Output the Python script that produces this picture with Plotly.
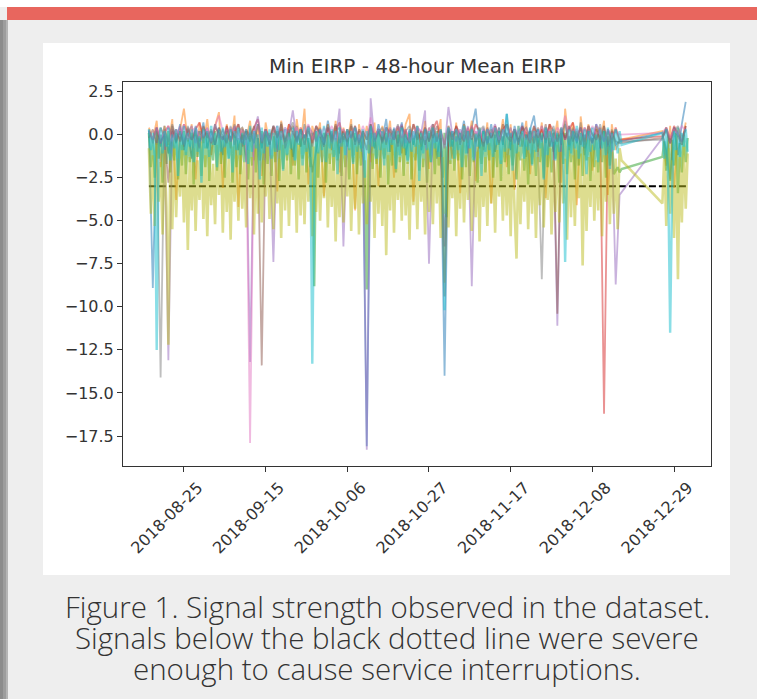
import pandas as pd
import plotly.graph_objects as go

# ---------------- time index ----------------
days_main = pd.date_range("2018-08-16", "2018-12-15", freq="D")          # 122 points
days_end = pd.date_range("2018-12-26", "2019-01-01", freq="D")           # 7 points
dates_daily = list(days_main) + list(days_end)
half_main = pd.date_range("2018-08-16 00:00", "2018-12-15 12:00", freq="12h")  # 244
half_end = pd.date_range("2018-12-26 00:00", "2019-01-01 12:00", freq="12h")   # 14
dates_half = list(half_main) + list(half_end)

# ---------------- series values (Min EIRP - 48h mean EIRP) ----------------
blue = [0.3, -8.9, 0.4, -0.7, 0.5, -1.1, 0.2, -0.5, 0.6, -0.9,
        0.3, -1.4, 0.5, -0.4, 0.7, -0.8, 0.2, -0.6, 0.4, -1.2,
        0.5, -0.3, 0.6, -0.9, 0.3, -1.6, 0.4, -0.5, 0.6, -0.8,
        0.2, -0.6, 0.5, -1.0, 0.7, -0.4, 0.3, -1.3, 0.5, -0.7,
        0.6, -0.5, -2.2, -0.9, 0.4, -0.6, 0.8, -0.3, 0.5, -1.1,
        0.3, -0.7, 0.6, -0.4, 0.2, -1.5, -18.1, 0.3, -0.8, 0.6,
        -0.3, 0.9, -1.0, 0.4, -0.5, 0.7, -1.2, 0.2, -0.6, 0.5,
        -0.9, 0.3, -0.4, 0.6, -1.4, 0.2, -14.0, 0.4, -0.7, 0.5,
        -0.3, 0.8, -1.1, 0.4, 1.5, -0.8, 0.3, -0.5, 0.6, -1.0,
        0.4, -0.6, 1.2, -0.9, 0.5, -0.4, 0.7, -1.3, 0.3, 1.1,
        -0.7, 0.5, -0.5, 0.6, -1.0, 0.2, -0.6, 0.8, -0.9, 0.4,
        -0.5, 0.7, -1.2, 0.3, -0.4, 0.6, -0.8, 0.5, -1.1, 0.3,
        -0.6, -0.4,
        0.1, -0.9, -2.6, 0.4, -1.2, 0.6, 1.9]

orange = [0.4, -0.3, 0.8, -1.9, 0.5, -0.6, 0.9, -3.8, 0.3, 1.5,
          -0.4, 0.6, -2.6, 0.7, -0.5, 0.9, -1.2, 0.5, 1.3, -3.1,
          0.6, -0.8, 1.1, -4.2, 0.4, -0.3, 0.8, -1.5, 0.5, -2.4,
          0.7, -0.6, 0.4, -3.3, 0.8, -0.5, 0.6, -1.8, 0.9, -0.7,
          1.5, -2.9, 0.5, -0.4, 0.7, -3.6, 0.6, -0.9, 0.8, -2.2,
          0.4, -0.5, 0.9, -4.4, 0.6, -0.8, 0.5, -1.6, 0.7, -3.0,
          0.5, -0.6, 0.8, -2.5, 0.4, -1.1, 0.6, 1.2, -3.9, 0.5,
          -0.7, 0.8, -2.0, 0.6, -0.4, 0.9, -8.6, 0.5, -1.4, 0.7,
          -3.4, 0.6, -0.5, 0.8, -2.7, 0.4, -0.9, 0.7, -4.0, 0.5,
          -0.6, 0.9, -1.9, 0.6, -3.2, 0.5, -0.7, 0.8, -2.3, 0.4,
          -1.0, 0.7, -3.7, 0.6, -0.5, 0.8, -2.8, 1.5, -0.6, 0.7,
          -4.1, 1.05, -0.8, 0.6, -2.1, 0.5, -0.4, 0.8, -3.5, 0.6,
          -0.9, -0.3,
          0.2, -1.8, 0.5, -3.1, 0.4, -0.6, 0.7]

green = [0.1, -1.9, -0.2, -2.5, 0.2, -1.4, 0.0, -2.8, -0.1, -1.7,
         0.2, -2.2, -0.3, -1.5, 0.1, -2.6, -0.1, -1.8, 0.2, -2.3,
         -0.2, -1.6, 0.1, -2.9, 0.0, -1.3, 0.2, -2.4, -0.1, -1.9,
         0.1, -2.7, -0.2, -1.5, 0.2, -2.1, 0.0, -1.7, -0.1, -2.5,
         0.2, -1.4, -0.1, -2.8, 0.1, -1.9, -0.2, -2.3, 0.0, -1.6,
         0.2, -2.6, -0.1, -1.8, 0.1, -2.2, -0.2, -1.5, 0.2, -2.9,
         0.0, -1.7, 0.1, -2.4, -0.1, -1.6, 0.2, -2.7, 0.0, -2.0,
         -0.2, -1.5, 0.1, -2.3, 0.2, -1.8, -0.1, -2.6, 0.1, -1.4,
         0.0, -2.2, -0.2, -1.9, 0.1, -8.8, 0.2, -2.5, -0.1, -1.6,
         0.1, -2.8, 0.0, -1.7, 0.2, -2.1, -0.2, -1.5, 0.1, -2.4,
         -0.1, -1.9, 0.2, -2.6, 0.0, -1.6, 0.1, -2.3, -0.2, -1.8,
         0.2, -2.7, -9.0, -1.5, 0.1, -2.0, -0.1, -1.7, 0.2, -2.5,
         0.0, -1.4, 0.1, -2.9, -0.2, -1.8, 0.2, -2.2, 0.0, -1.6,
         -0.1, -2.4, 0.2, -1.7, 0.1, -2.6, -0.2, -1.5, 0.0, -2.1,
         0.2, -1.9, -0.1, -2.8, 0.1, -1.6, 0.0, -2.3, 0.2, -1.8,
         -0.2, -2.5, 0.1, -4.8, 0.0, -1.7, 0.2, -2.1, -0.1, -1.5,
         0.1, -2.6, 0.0, -1.9, 0.2, -2.4, -0.2, -1.6, 0.1, -2.8,
         0.0, -1.7, 0.2, -2.2, -0.1, -1.5, 0.1, -2.5, 0.0, -1.9,
         0.2, -2.7, -0.1, -1.6, 0.1, -2.3, 0.0, -1.8, 0.2, -2.6,
         -0.2, -1.5, 0.1, -2.1, 0.0, -2.9, 0.2, -1.7, -0.1, -2.4,
         0.1, -1.6, 0.0, -2.5, 0.2, -1.9, -0.2, -2.2, 0.1, -1.4,
         0.0, -2.8, 0.2, -1.7, 0.1, -2.3, -0.1, -1.6, 0.2, -2.6,
         -0.1, -1.8, 0.1, -2.4, 0.0, -1.5, 0.2, -2.7, -0.2, -1.9,
         0.1, -2.2, 0.0, -1.6, 0.2, -2.5, -0.1, -1.8, 0.1, -2.3,
         -2.1, -1.9, -2.2, -2.0,
         -1.3, -0.4, -2.1, 0.0, -2.7, -0.3, -1.8, 0.1, -3.4, -0.5,
         -2.2, 0.0, -1.6, -0.2]

red = [0.2, -0.3, 0.4, -0.5, 0.1, 0.5, -0.2, 0.3, -0.4, 0.6,
       0.0, -0.3, 0.3, 0.7, -0.2, 0.2, -0.5, 0.4, 0.1, -0.3,
       0.5, -0.4, 0.2, 0.6, -0.3, 0.3, -0.1, 0.4, 0.9, -0.5,
       0.3, -0.2, 0.5, -0.1, 0.3, -0.4, 0.6, 0.1, -0.3, 0.4,
       -0.2, 0.3, -0.5, 0.5, 0.1, -0.3, 0.4, -0.4, 0.2, 0.7,
       -0.3, 0.3, -0.2, 0.5, -0.5, 0.2, -0.3, 0.6, -0.1, 0.3,
       -0.4, 0.4, 0.1, -0.3, 0.5, -0.2, 0.3, -0.5, 0.6, 0.1,
       -0.3, 0.4, -0.4, 0.3, 0.8, -0.2, -6.5, 0.3, -0.3, 0.5,
       0.0, -0.4, 0.4, -0.3, 0.6, 0.2, -0.5, 0.3, -0.2, 0.5,
       -0.3, 0.3, 0.6, -0.2, 0.3, -0.4, 0.4, 0.1, -0.5, 0.5,
       -0.2, 0.3, -0.3, 0.6, 0.2, -0.4, 0.4, -0.3, 0.3, 0.7,
       -0.2, 0.4, -0.4, 0.5, 0.0, -0.3, 0.4, -16.2, 0.3, -0.3,
       0.4, -0.3,
       -0.1, 0.4, -0.3, 0.5, 0.1, -0.4, 0.5]

purple = [0.2, -0.3, 0.4, -0.5, 0.1, -13.1, 0.3, -0.2, 0.5, -0.4,
          0.1, 0.5, -0.5, 0.2, -0.1, 0.4, -0.4, 0.6, 0.0, -0.3,
          0.3, -0.4, 0.5, 0.0, -0.5, 0.2, -13.2, 0.1, 1.05, -0.4,
          0.3, -0.2, -7.4, 0.3, -0.3, 0.4, 0.1, 1.4, -0.4, 0.3,
          -0.2, 0.5, 0.1, -0.4, 0.3, -0.5, 0.4, 0.0, -0.3, 1.5,
          -6.5, 0.2, -0.2, 0.4, -0.4, 0.1, -18.3, 2.1, -0.4, 0.3,
          0.1, -0.4, 0.4, -0.3, 0.2, 0.6, -0.5, 0.3, -0.2, 0.4,
          0.1, 1.4, -7.5, 0.3, -0.4, 0.2, -0.8, 1.6, 0.0, -0.4,
          0.3, -0.3, 0.5, -8.8, 0.2, -0.2, 0.4, -0.5, 0.1, 0.6,
          -0.4, 0.3, -0.1, 0.4, -0.5, 0.2, 0.5, -0.3, 0.3, -0.2,
          0.3, -0.4, 0.4, 0.1, -0.5, -11.1, 0.3, -0.3, 0.5, 0.0,
          -0.4, 0.4, -0.2, 0.3, -0.5, 0.6, 0.1, -0.4, 0.3, -0.3,
          -8.7, -3.5,
          -0.2, 0.3, -0.5, 0.4, 0.0, -0.4, 0.4]

brown = [-0.2, 0.3, -0.6, 0.4, -0.1, -2.8, 0.5, -0.4, 0.2, -0.7,
         0.4, -0.3, 0.1, -0.8, 0.5, -0.2, 0.3, -0.6, 0.4, -0.1,
         -0.5, 0.3, -0.2, 0.6, -0.7, 0.2, -0.4, 0.5, -0.3, -13.4,
         0.3, -0.5, 0.4, -0.2, 0.6, -0.8, 0.1, 0.5, -0.4, 0.3,
         -0.6, 0.2, -0.3, 0.5, -0.1, -0.7, 0.4, -0.2, 0.6, -0.5,
         0.2, -0.4, 0.5, -0.6, 0.3, -0.1, -0.9, 0.6, -0.3, 0.2,
         -0.5, 0.4, -0.2, 0.3, -0.7, 0.5, -0.1, -0.4, 0.6, -0.3,
         0.2, -0.6, 0.4, -0.2, 0.5, -0.5, -9.4, 0.3, -0.1, 0.4,
         -0.6, 0.2, -0.3, 0.5, -0.4, 0.1, -0.7, 0.4, -0.2, 0.3,
         -0.5, 0.6, -0.1, -0.4, 0.3, -0.6, 0.5, -0.2, 0.2, -0.5,
         0.4, -0.3, 0.6, -0.7, 0.1, -10.4, 0.3, -0.2, 0.5, -0.4,
         0.2, -0.6, 0.4, -0.1, -0.5, 0.3, -0.3, 0.5, -0.6, 0.2,
         -0.4, -0.5,
         -0.2, 0.3, -0.5, 0.4, -0.1, -0.6, 0.5]

pink = [0.2, -0.3, 0.4, -0.2, 0.1, 0.5, -0.4, 0.3, -0.1, 0.6,
        -0.3, 0.2, 0.4, -0.2, 0.1, 0.3, -0.4, 0.5, 1.1, 0.2,
        -0.2, 0.4, 0.1, -0.3, 0.3, -0.1, -17.9, 0.2, 0.5, -0.2,
        0.3, -0.4, 0.2, 0.5, -0.1, 0.3, -0.3, 0.1, 0.4, -0.2,
        0.2, 0.6, -0.3, 0.3, -0.1, 0.4, 0.0, 0.5, -0.4, 0.2,
        0.3, -0.2, 0.1, 0.4, -0.3, 0.5, -0.1, 1.0, -0.2, 0.3,
        -0.1, 0.4, -0.3, 0.2, 0.5, -0.2, 0.3, -0.4, 0.1, 0.4,
        0.2, -0.3, 0.3, 0.6, -0.1, 0.2, -0.5, 0.4, 0.1, 0.3,
        -0.2, 0.4, -0.3, 0.5, 0.1, 0.2, -0.4, 0.3, 0.0, 0.4,
        -0.3, 0.2, 0.5, -0.1, 0.3, 0.1, -0.2, 0.4, -0.3, 0.2,
        0.0, 0.5, -0.2, 0.3, -0.4, 0.4, 0.1, 1.1, -0.3, 0.2,
        0.3, -0.1, 0.4, -0.3, 0.5, 0.0, 0.2, -0.4, 0.3, -0.1,
        0.2, 0.0,
        0.1, 0.4, -0.2, 0.3, 0.0, 0.5, 0.2]

gray = [0.2, -0.5, 0.4, -14.1, 0.3, -0.4, 0.6, -0.2, 0.1, -0.6,
        0.5, -0.3, 0.2, -0.7, 0.4, 0.0, -0.5, 0.6, -0.2, 0.3,
        -0.4, 0.5, -0.6, 0.2, 0.4, -0.3, 0.1, -0.5, 0.6, -0.2,
        0.3, -0.6, 0.5, -0.1, 0.4, -0.4, 0.2, 0.7, -0.5, 0.3,
        -0.2, 0.5, -0.7, 0.4, 0.1, -0.3, 0.6, -0.5, 0.2, 0.4,
        -0.4, 0.3, -0.1, 0.5, -0.6, 0.2, -0.3, 0.6, -0.4, 0.1,
        0.4, -0.5, 0.3, -0.2, 0.6, -0.7, 0.2, 0.5, -0.3, 0.1,
        -0.5, 0.4, -0.2, 0.6, -0.4, 0.3, -0.6, 0.5, -0.1, 0.2,
        -0.4, 0.6, -0.3, 0.4, -0.5, 0.2, 0.5, -0.6, 0.3, -0.2,
        0.4, -0.4, 0.6, -0.1, 0.3, -0.5, 0.2, 0.4, -0.3, 0.5,
        -0.6, -8.4, 0.3, -0.2, 0.5, -0.4, 0.1, 0.6, -0.5, 0.3,
        -0.2, 0.4, -0.6, 0.5, 0.0, -0.3, 0.6, -0.4, 0.2, -0.5,
        0.3, -0.4,
        -0.3, 0.4, -0.5, 0.2, 0.5, -0.2, 0.3]

olive = [-0.8, -4.6, -1.2, -5.3, -0.5, -3.9, -1.6, -5.8, -0.9, -4.2,
         -12.2, -1.1, -5.5, -0.7, -4.8, -1.4, -3.6, -0.6, -5.1, -1.0,
         -6.7, -1.3, -4.4, -0.8, -5.6, -1.5, -3.8, -0.4, -4.9, -1.2,
         -5.9, -0.9, -4.1, -1.7, -5.2, -0.6, -3.5, -1.1, -5.7, -0.8,
         -4.5, -1.4, -6.1, -0.7, -3.9, -1.2, -5.0, -0.5, -4.3, -1.6,
         -5.4, -0.9, -3.7, -1.3, -5.8, -0.6, -4.6, -1.0, -5.1, -1.5,
         -3.6, -0.7, -4.9, -1.2, -5.5, -0.8, -4.0, -1.4, -6.0, -0.6,
         -4.4, -1.1, -5.3, -0.9, -3.8, -1.5, -5.7, -0.5, -4.7, -1.2,
         -5.2, -0.8, -3.9, -1.3, -5.9, -0.7, -4.5, -1.0, -5.0, -1.6,
         -3.7, -0.6, -5.4, -1.1, -4.2, -0.9, -6.2, -1.4, -4.8, -0.5,
         -5.1, -1.2, -3.6, -0.8, -5.6, -1.3, -4.3, -0.7, -5.8, -1.0,
         -4.0, -1.5, -5.2, -0.6, -3.9, -1.1, -6.0, -0.9, -4.6, -1.4,
         -5.3, -0.8, -7.0, -1.2, -4.4, -0.5, -5.7, -1.0, -3.8, -1.3,
         -5.0, -0.7, -4.7, -1.6, -6.1, -0.9, -4.1, -1.1, -5.5, -0.6,
         -3.9, -1.4, -5.8, -0.8, -4.5, -1.2, -5.2, -0.5, -4.0, -1.0,
         -6.0, -1.3, -4.6, -0.7, -5.4, -1.5, -3.7, -0.9, -5.9, -1.1,
         -4.3, -0.6, -5.1, -1.2, -3.8, -0.8, -5.6, -1.4, -4.8, -1.0,
         -6.2, -0.7, -4.2, -1.3, -5.3, -0.5, -4.0, -1.1, -5.7, -0.9,
         -3.6, -1.5, -5.0, -0.8, -4.7, -1.2, -5.9, -0.6, -4.4, -7.2,
         -1.0, -5.2, -1.4, -3.9, -0.7, -5.5, -1.1, -4.6, -0.9, -6.0,
         -1.3, -4.1, -0.5, -5.4, -1.2, -3.8, -0.8, -5.8, -1.5, -4.5,
         -0.6, -5.1, -1.0, -4.0, -1.4, -6.1, -0.7, -4.8, -1.2, -5.3,
         -0.9, -3.7, -1.1, -7.6, -0.8, -5.6, -1.3, -4.2, -0.6, -5.0,
         -1.5, -4.4, -0.9, -5.9, -1.2, -3.9, -0.7, -5.2, -1.0, -4.6,
         -1.4, -5.5, -0.8, -1.5,
         -4.0, -1.2, -5.3, -0.8, -4.6, -1.5, -6.0, -0.9, -8.4, -1.3,
         -5.1, -0.7, -4.3, -1.1]

cyan = [0.3, -0.9, 0.1, -1.3, -12.5, -0.6, 0.4, -1.1, 0.2, -0.7,
        0.4, -1.5, 0.0, -0.8, 0.3, -2.4, 0.2, -0.9, 0.5, -1.2,
        0.1, -0.7, 0.3, -1.6, 0.4, -1.0, -0.1, -2.8, 0.3, -0.8,
        0.2, -1.3, 0.5, -0.6, 0.1, -1.9, 0.3, -1.0, 0.4, -0.7,
        0.0, -1.4, 0.3, -2.2, 0.2, -0.9, 0.4, -1.2, 0.1, -0.6,
        0.3, -1.7, 0.5, -1.0, 0.2, -0.8, 0.0, -2.6, 0.4, -1.1,
        0.2, -0.7, 0.3, -1.4, 0.1, -1.0, 0.5, -0.9, 0.2, -2.1,
        0.3, -1.2, 0.1, -0.8, 0.4, -1.5, 0.2, -0.6, 0.3, -1.8,
        0.0, -1.0, 0.4, -0.7, -13.3, -2.9, 0.2, -1.1, 0.3, -0.9,
        0.5, -1.6, 0.1, -0.8, 0.3, -1.3, 0.2, -2.3, 0.4, -0.7,
        0.1, -1.2, 0.3, -0.9, 0.2, -1.7, 0.4, -1.0, 0.0, -0.8,
        0.3, -2.5, 0.2, -1.1, 0.5, -0.7, 0.1, -1.4, 0.3, -0.9,
        0.2, -1.8, 0.4, -1.0, 0.1, -0.6, 0.3, -2.0, 0.2, -1.2,
        0.4, -0.8, 0.0, -1.5, 0.3, -1.0, 0.2, -0.7, 0.5, -2.7,
        0.1, -1.1, 0.3, -0.9, 0.2, -1.6, 0.4, -0.8, 0.1, -1.3,
        0.3, -2.2, -10.2, -1.0, 0.4, -0.7, 0.2, -1.4, 0.3, -0.9,
        0.1, -1.9, 0.5, -1.1, 0.2, -0.8, 0.3, -1.5, 0.0, -0.7,
        0.4, -2.4, 0.2, -1.0, 0.3, -0.9, 0.1, -1.3, 0.4, -0.6,
        0.2, -1.7, 0.3, -1.0, 1.2, -0.8, 0.1, -2.1, 0.3, -1.1,
        0.5, -0.7, 0.2, -1.4, 0.0, -0.9, 0.4, -1.8, 0.2, -1.0,
        0.3, -0.8, 0.1, -2.6, 0.4, -1.2, 0.2, -0.7, 0.3, -1.5,
        0.1, -1.0, 0.4, -0.9, -7.4, -1.9, 0.3, -1.1, 0.2, -0.8,
        0.5, -1.4, 0.1, -0.7, 0.3, -2.3, 0.2, -1.0, 0.4, -0.9,
        0.0, -1.6, 0.3, -0.8, 0.2, -1.2, 0.4, -2.0, 0.1, -0.9,
        0.3, -1.1, 0.2, -0.6,
        0.1, -1.4, 0.3, -2.8, -11.5, -3.2, 0.2, -0.9, 0.4, -1.3,
        0.1, -0.7, 0.3, -1.0]

threshold = -3.0

# (name, colour, dates, values, line width)
series = [
    ("blue", "#1f77b4", dates_daily, blue, 1.8),
    ("orange", "#ff7f0e", dates_daily, orange, 1.8),
    ("green", "#2ca02c", dates_half, green, 2.4),
    ("red", "#d62728", dates_daily, red, 1.8),
    ("purple", "#9467bd", dates_daily, purple, 1.8),
    ("brown", "#8c564b", dates_daily, brown, 1.8),
    ("pink", "#e377c2", dates_daily, pink, 1.8),
    ("gray", "#7f7f7f", dates_daily, gray, 1.8),
    ("olive", "#bcbd22", dates_half, olive, 2.6),
    ("cyan", "#17becf", dates_half, cyan, 2.4),
]

x_ticks = ["2018-08-25", "2018-09-15", "2018-10-06", "2018-10-27",
           "2018-11-17", "2018-12-08", "2018-12-29"]
y_ticks = [2.5, 0.0, -2.5, -5.0, -7.5, -10.0, -12.5, -15.0, -17.5]

caption_lines = ["Figure 1. Signal strength observed in the dataset.",
                 "Signals below the black dotted line were severe",
                 "enough to cause service interruptions."]

fig = go.Figure()

# threshold line (drawn first, under the series)
fig.add_trace(go.Scatter(
    x=[dates_half[0], dates_half[-1]], y=[threshold, threshold],
    mode="lines", line=dict(color="#000000", width=2, dash="7px,3px"),
    hoverinfo="skip", showlegend=False))

for name, color, xs, ys, lw in series:
    fig.add_trace(go.Scatter(
        x=xs, y=ys, mode="lines", name=name,
        line=dict(color=color, width=lw, simplify=False),
        opacity=0.5, showlegend=False))

# page decoration (plot area: x 123..711 px, y 82..466 px)
W, H = 757, 699
L, R, T, B = 123, 46, 82, 233
pw, ph = W - L - R, H - T - B


def px(X):
    return (X - L) / pw


def py(Y):
    return (H - B - Y) / ph


shapes = [
    dict(type="rect", x0=px(0), x1=px(W), y0=py(7), y1=py(0),
         fillcolor="#ffffff", line=dict(width=0)),
    dict(type="rect", x0=px(7), x1=px(W), y0=py(20), y1=py(7),
         fillcolor="#e8665e", line=dict(width=0)),
    dict(type="rect", x0=px(0), x1=px(3), y0=py(H), y1=py(20),
         fillcolor="#8c8c8c", line=dict(width=0)),
    dict(type="rect", x0=px(3), x1=px(6), y0=py(H), y1=py(20),
         fillcolor="#9d9d9d", line=dict(width=0)),
    dict(type="rect", x0=px(6), x1=px(8), y0=py(H), y1=py(20),
         fillcolor="#b5b5b5", line=dict(width=0)),
    dict(type="rect", x0=px(43), x1=px(730), y0=py(575), y1=py(43),
         fillcolor="#ffffff", line=dict(width=0)),
]
for s in shapes:
    s.update(xref="paper", yref="paper", layer="below")

annotations = [
    dict(text="Min EIRP - 48-hour Mean EIRP", x=0.5, y=py(66),
         xref="paper", yref="paper", xanchor="center", yanchor="middle",
         showarrow=False, font=dict(family="DejaVu Sans", size=20, color="#333333")),
]
for k, line in enumerate(caption_lines):
    annotations.append(dict(
        text=line, x=px(387), y=py(606 + 31 * k), xref="paper", yref="paper",
        xanchor="center", yanchor="middle", showarrow=False,
        font=dict(family="Open Sans", size=29.5, color="#333333", weight=300)))

fig.update_layout(
    width=W, height=H,
    margin=dict(l=L, r=R, t=T, b=B, pad=0),
    paper_bgcolor="#eeeeee", plot_bgcolor="#ffffff",
    shapes=shapes, annotations=annotations,
    font=dict(family="DejaVu Sans", size=16, color="#333333"),
    showlegend=False,
)
fig.update_xaxes(
    type="date", range=["2018-08-09 08:00", "2019-01-07 12:00"],
    tickvals=x_ticks, ticktext=x_ticks, tickangle=-45, ticklabelshift=14,
    ticks="outside", ticklen=5, tickcolor="#333333", tickwidth=1,
    showline=True, linecolor="#333333", linewidth=1, mirror=True,
    showgrid=False, zeroline=False,
    tickfont=dict(family="DejaVu Sans", size=16, color="#333333"),
)
fig.update_yaxes(
    range=[-19.24, 3.05], tickvals=y_ticks, tickformat=".1f",
    ticks="outside", ticklen=5, tickcolor="#333333", tickwidth=1,
    showline=True, linecolor="#333333", linewidth=1, mirror=True,
    showgrid=False, zeroline=False,
    tickfont=dict(family="DejaVu Sans", size=16, color="#333333"),
)

fig.write_html("out.html", config={"displayModeBar": False},
               post_script="document.body.style.margin='0';")
